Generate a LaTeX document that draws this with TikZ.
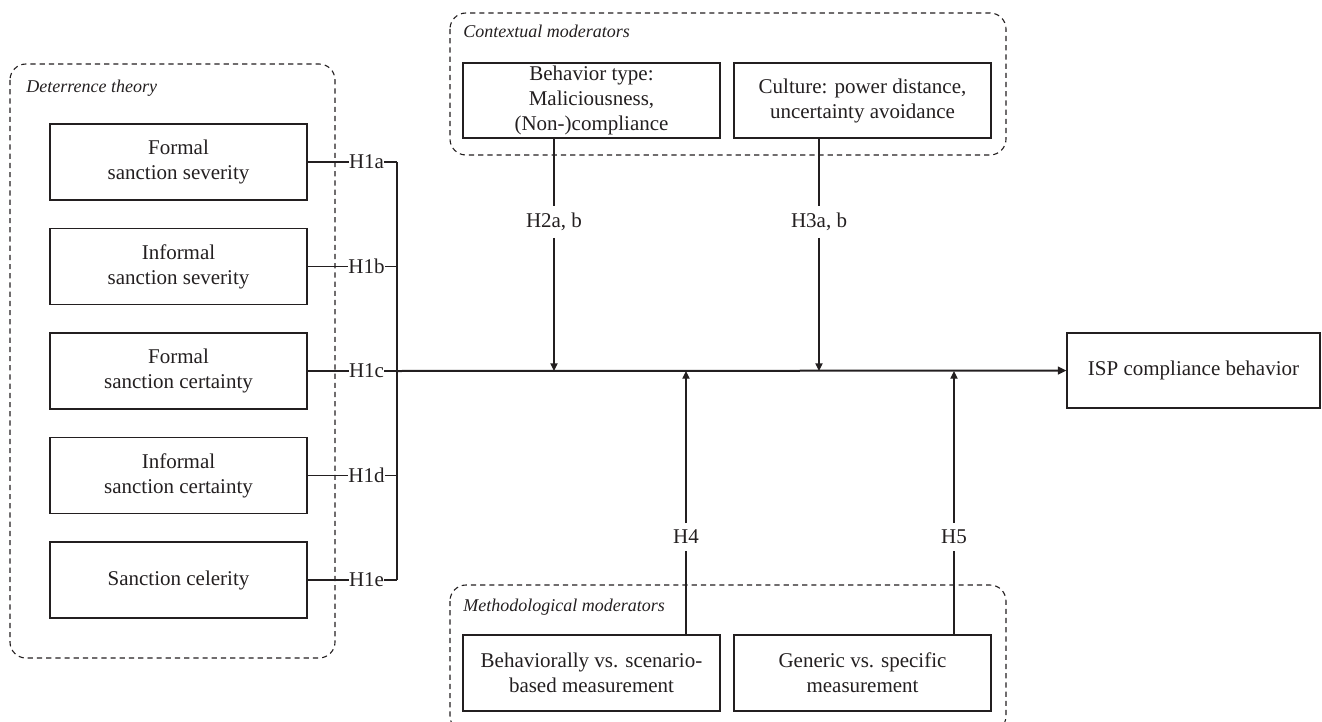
\documentclass[tikz,border=0pt]{standalone}
\usepackage{fontspec}
\setmainfont{Liberation Serif}
\usetikzlibrary{arrows.meta}
\definecolor{ink}{RGB}{35,31,32}

\tikzset{
	factor/.style={draw=ink, text=ink, line width=0.65pt, minimum width=128.5pt, minimum height=38pt, align=center, inner sep=1pt, font=\fontsize{10.5}{12.5}\selectfont},
	hyp/.style={text=ink, font=\fontsize{10.5}{12.5}\selectfont},
	group/.style={draw=ink, dash pattern=on 2.6pt off 2pt, rounded corners=8pt, line width=0.55pt},
	grouplabel/.style={text=ink, anchor=base west, inner sep=0pt, font=\fontsize{9}{11}\selectfont\itshape},
	link/.style={draw=ink, line width=0.6pt},
	moder/.style={link, -{Triangle[length=3.8pt,width=3.6pt]}},
	mainpath/.style={draw=ink, line width=1pt, -{Triangle[length=4.2pt,width=3.8pt]}}
}

\begin{document}
\begin{tikzpicture}[x=0.5pt,y=-0.5pt]
		\useasboundingbox (0,0) rectangle (1322,722);

		\draw[group] (10,64) rectangle (335,658);
		\draw[group] (450,13) rectangle (1006,155);
		\draw[group] (450,585) rectangle (1006,732);

		\node[grouplabel] (dtlabel) at (26,93) {Deterrence theory};
		\node[grouplabel] (cmlabel) at (463,38) {Contextual moderators};
		\node[grouplabel] (mmlabel) at (463,611) {Methodological moderators};

		\node[factor] (fss) at (178.5,162) {Formal\\sanction severity};
		\node[factor] (iss) at (178.5,266.5) {Informal\\sanction severity};
		\node[factor] (fsc) at (178.5,371) {Formal\\sanction certainty};
		\node[factor] (isc) at (178.5,475.5) {Informal\\sanction certainty};
		\node[factor] (sc) at (178.5,580) {Sanction celerity};

		\node[hyp, inner xsep=0pt] (h1a) at (366.5,162) {H1a};
		\node[hyp, inner xsep=0pt] (h1b) at (366.5,266.5) {H1b};
		\node[hyp, inner xsep=0pt] (h1c) at (366.5,371) {H1c};
		\node[hyp, inner xsep=0pt] (h1d) at (366.5,475.5) {H1d};
		\node[hyp, inner xsep=0pt] (h1e) at (366.5,580) {H1e};
		\coordinate (jn) at (397,371);

		\node[factor, minimum height=37.5pt] (btype) at (591.5,100.5) {Behavior type:\\Maliciousness,\\(Non-)compliance};
		\node[factor, minimum height=37.5pt] (culture) at (862.5,100.5) {Culture: power distance,\\uncertainty avoidance};
		\node[factor] (measure) at (591.5,673) {Behaviorally vs. scenario-\\based measurement};
		\node[factor] (generic) at (862.5,673) {Generic vs. specific\\measurement};
		\node[factor, minimum width=126.5pt, minimum height=37.5pt] (isp) at (1193.5,370.5) {ISP compliance behavior};

		\node[hyp] (h2) at (554,222) {H2a, b};
		\node[hyp] (h3) at (819,222) {H3a, b};
		\node[hyp] (h4) at (686,537) {H4};
		\node[hyp] (h5) at (954,537) {H5};

		\foreach \f/\h in {fss/h1a, iss/h1b, fsc/h1c, isc/h1d, sc/h1e}
			\draw[link] (\f) -- (\h) -- (\h -| jn);
		\draw[link, line width=0.8pt] (h1a -| jn) -- (h1e -| jn);
		\draw[mainpath] (jn) -- (isp);

		\draw[link] (btype.south -| h2) -- (h2);
		\draw[moder] (h2) -- (h2 |- jn);
		\draw[link] (culture.south -| h3) -- (h3);
		\draw[moder] (h3) -- (h3 |- jn);
		\draw[link] (measure.north -| h4) -- (h4);
		\draw[moder] (h4) -- (h4 |- jn);
		\draw[link] (generic.north -| h5) -- (h5);
		\draw[moder] (h5) -- (h5 |- jn);
	\end{tikzpicture}
\end{document}
